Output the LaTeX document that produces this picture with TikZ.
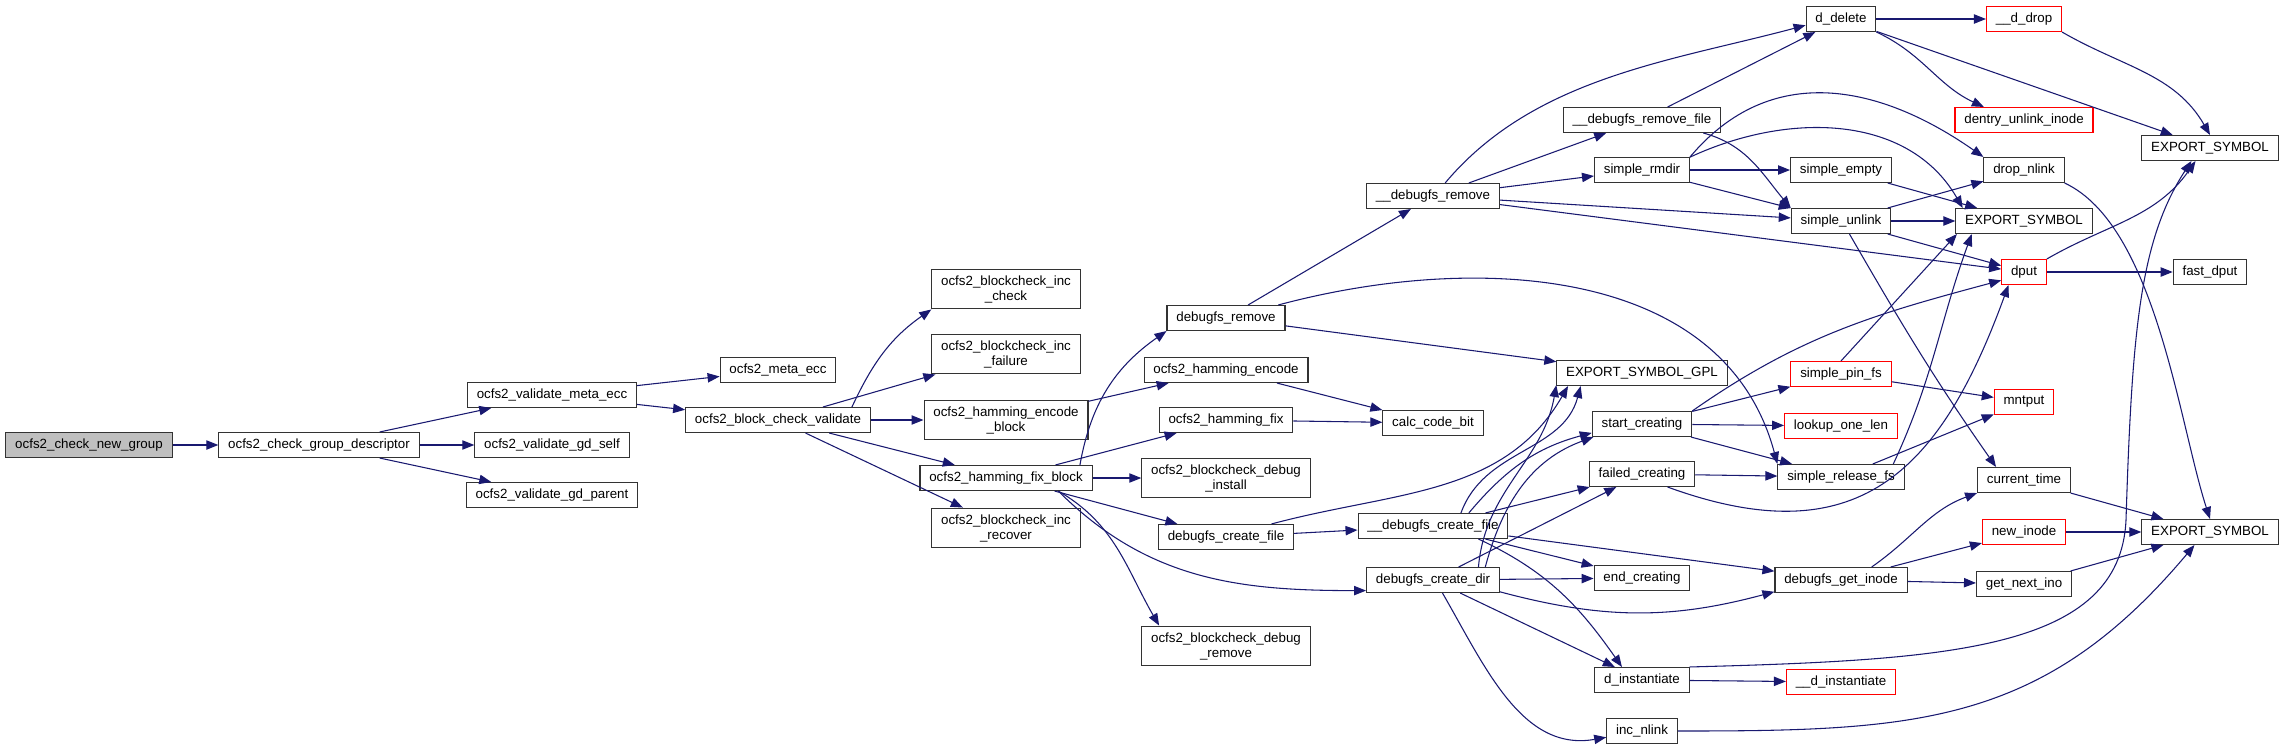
\documentclass[tikz,border=0pt]{standalone}
\usepackage{fontspec}
\setmainfont{Liberation Sans}
\usepackage{tikz}
\usetikzlibrary{arrows.meta}
\definecolor{edgeblue}{RGB}{25,25,112}

\begin{document}
\begin{tikzpicture}[
  x=0.75pt, y=0.75pt,
  fn/.style={draw=black!80, fill=white, line width=0.8pt, font=\fontsize{10}{11.25}\selectfont, inner xsep=7pt, inner ysep=4.7pt, minimum height=18.75pt, align=center},
  fnred/.style={fn, draw=red},
  root/.style={fn, fill=black!25},
  arr/.style={-{Triangle[length=9pt,width=7pt]}, line width=0.8pt, color=edgeblue},
]
\useasboundingbox (0,0) rectangle (2285,-747);

% ─── Caller chain (left) ───
\node[root] (cng) at (89,-445) {ocfs2\_check\_new\_group};
\node[fn] (cgd) at (319,-445) {ocfs2\_check\_group\_descriptor};
\node[fn] (vme) at (552,-395) {ocfs2\_validate\_meta\_ecc};
\node[fn] (vgs) at (552,-445) {ocfs2\_validate\_gd\_self};
\node[fn] (vgp) at (552,-495) {ocfs2\_validate\_gd\_parent};
\node[fn] (mec) at (778,-370) {ocfs2\_meta\_ecc};
\node[fn] (bcv) at (778,-420) {ocfs2\_block\_check\_validate};

% ─── Block check column ───
\node[fn] (ich) at (1006,-289) {ocfs2\_blockcheck\_inc\\\_check};
\node[fn] (icf) at (1006,-354) {ocfs2\_blockcheck\_inc\\\_failure};
\node[fn] (heb) at (1006,-420) {ocfs2\_hamming\_encode\\\_block};
\node[fn] (hfb) at (1006,-478) {ocfs2\_hamming\_fix\_block};
\node[fn] (icr) at (1006,-528) {ocfs2\_blockcheck\_inc\\\_recover};

% ─── Hamming / debugfs column ───
\node[fn] (dfr) at (1226,-318) {debugfs\_remove};
\node[fn] (hen) at (1226,-370) {ocfs2\_hamming\_encode};
\node[fn] (hfx) at (1226,-420) {ocfs2\_hamming\_fix};
\node[fn] (dbi) at (1226,-478) {ocfs2\_blockcheck\_debug\\\_install};
\node[fn] (dcf) at (1226,-537) {debugfs\_create\_file};
\node[fn] (dbr) at (1226,-646) {ocfs2\_blockcheck\_debug\\\_remove};

\node[fn] (udr) at (1433,-196) {\_\_debugfs\_remove};
\node[fn] (ccb) at (1433,-423) {calc\_code\_bit};
\node[fn] (udcf) at (1433,-526) {\_\_debugfs\_create\_file};
\node[fn] (dcd) at (1433,-580) {debugfs\_create\_dir};

\node[fn] (udrf) at (1642,-120) {\_\_debugfs\_remove\_file};
\node[fn] (srm) at (1642,-170) {simple\_rmdir};
\node[fn] (esg) at (1642,-373) {EXPORT\_SYMBOL\_GPL};
\node[fn] (stc) at (1642,-424) {start\_creating};
\node[fn] (fcr) at (1642,-474) {failed\_creating};
\node[fn] (ecr) at (1642,-578) {end\_creating};
\node[fn] (din) at (1642,-680) {d\_instantiate};
\node[fn] (inl) at (1642,-731) {inc\_nlink};

% ─── libfs / dcache column ───
\node[fn] (ddl) at (1841,-19) {d\_delete};
\node[fn] (sem) at (1841,-170) {simple\_empty};
\node[fn] (sul) at (1841,-221) {simple\_unlink};
\node[fnred] (spf) at (1841,-374) {simple\_pin\_fs};
\node[fnred] (lol) at (1841,-426) {lookup\_one\_len};
\node[fn] (srf) at (1841,-477) {simple\_release\_fs};
\node[fn] (dgi) at (1841,-580) {debugfs\_get\_inode};
\node[fnred] (udin) at (1841,-682) {\_\_d\_instantiate};

\node[fnred] (udd) at (2024,-19) {\_\_d\_drop};
\node[fnred] (dui) at (2024,-120) {dentry\_unlink\_inode};
\node[fn] (dnl) at (2024,-170) {drop\_nlink};
\node[fn] (esm) at (2024,-221) {EXPORT\_SYMBOL};
\node[fnred] (dpt) at (2024,-272) {dput};
\node[fnred] (mnt) at (2024,-402) {mntput};
\node[fn] (ctm) at (2024,-480) {current\_time};
\node[fnred] (nin) at (2024,-532) {new\_inode};
\node[fn] (gni) at (2024,-584) {get\_next\_ino};

\node[fn] (est) at (2210,-148) {EXPORT\_SYMBOL};
\node[fn] (fdp) at (2210,-272) {fast\_dput};
\node[fn] (esb) at (2210,-532) {EXPORT\_SYMBOL};

% ─── Calls: left part ───
\draw[arr] (cng) -- (cgd);
\draw[arr] (cgd) -- (vme);
\draw[arr] (cgd) -- (vgs);
\draw[arr] (cgd) -- (vgp);
\draw[arr] (vme) -- (mec);
\draw[arr] (vme) -- (bcv);
\draw[arr] (bcv.10) to[out=65,in=215] (ich.south west);
\draw[arr] (bcv) -- (icf);
\draw[arr] (bcv) -- (heb);
\draw[arr] (bcv) -- (hfb);
\draw[arr] (bcv) -- (icr);
\draw[arr] (heb) -- (hen);
\draw[arr] (hfb) -- (hfx);
\draw[arr] (hfb.10) to[out=80,in=215] (dfr.south west);
\draw[arr] (hfb) -- (dbi);
\draw[arr] (hfb) -- (dcf);
\draw[arr] (hfb.-14) to[out=-45,in=180] (dcd.189);
\draw[arr] (hfb.-14) to[out=-30,in=120] (dbr.163);
\draw[arr] (hen) -- (ccb);
\draw[arr] (hfx) -- (ccb);

% ─── debugfs_remove side ───
\draw[arr] (dfr) -- (udr);
\draw[arr] (dfr) -- (esg);
\draw[arr] (dfr.14) to[out=15,in=105] (srf.north west);
\draw[arr] (udr.47) to[out=50,in=195,looseness=0.9] (ddl.190);
\draw[arr] (udr) -- (udrf);
\draw[arr] (udr) -- (srm);
\draw[arr] (udr) -- (sul);
\draw[arr] (udr) -- (dpt);
\draw[arr] (udrf) -- (ddl);
\draw[arr] (udrf.-12) to[out=-15,in=130] (sul.north west);
\draw[arr] (srm) -- (sem);
\draw[arr] (srm) -- (sul);
\draw[arr] (srm.north east) to[out=50,in=145,looseness=1.1] (dnl.north west);
\draw[arr] (srm.15) to[out=25,in=120] (esm.168);
\draw[arr] (sem) -- (esm);
\draw[arr] (sul) -- (dnl);
\draw[arr] (sul) -- (esm);
\draw[arr] (sul) -- (dpt);
\draw[arr] (sul.-57) to[out=-60,in=125] (ctm.155);
\draw[arr] (ddl) -- (udd);
\draw[arr] (ddl.south east) to[out=-25,in=155] (dui.162);
\draw[arr] (ddl) -- (est);
\draw[arr] (udd.south east) to[out=-30,in=120] (est.north);
\draw[arr] (dnl.south east) to[out=-25,in=108,looseness=0.7] (esb.north);
\draw[arr] (dpt.north east) to[out=30,in=235] (est.222);
\draw[arr] (dpt) -- (fdp);

% ─── debugfs_create side ───
\draw[arr] (dcf) -- (udcf);
\draw[arr] (dcf.16) to[out=15,in=240] (esg.190);
\draw[arr] (udcf.20) to[out=50,in=195] (stc.190);
\draw[arr] (udcf.25) to[out=70,in=255] (esg.192);
\draw[arr] (udcf) -- (fcr);
\draw[arr] (udcf) -- (ecr);
\draw[arr] (udcf) -- (dgi);
\draw[arr] (udcf.-16) to[out=-25,in=125] (din.147);
\draw[arr] (dcd.14) to[out=75,in=200] (stc.195);
\draw[arr] (dcd.16) to[out=85,in=260] (esg.188);
\draw[arr] (dcd) -- (fcr);
\draw[arr] (dcd) -- (ecr);
\draw[arr] (dcd.-10) to[out=-15,in=195] (dgi.190);
\draw[arr] (dcd) -- (din);
\draw[arr] (dcd.-54) to[out=-60,in=190] (inl.190);
\draw[arr] (stc) -- (spf);
\draw[arr] (stc) -- (lol);
\draw[arr] (stc) -- (srf);
\draw[arr] (stc.north east) to[out=35,in=195] (dpt.200);
\draw[arr] (fcr) -- (srf);
\draw[arr] (fcr.-27) to[out=-20,in=250,looseness=1.3] (dpt.220);
\draw[arr] (spf.north) -- (esm.191);
\draw[arr] (spf) -- (mnt);
\draw[arr] (srf.14) to[out=65,in=250] (esm.194);
\draw[arr] (srf) -- (mnt);
\draw[arr] (din) -- (udin);
\draw[arr] (din.north east) .. controls (1950,-660) and (2120,-650) .. (2126,-520)
  .. controls (2132,-330) and (2140,-240) .. (est.215);
\draw[arr] (inl.east) to[out=0,in=230,looseness=1.1] (esb.220);
\draw[arr] (dgi.23) to[out=35,in=200] (ctm.south west);
\draw[arr] (dgi) -- (nin);
\draw[arr] (dgi) -- (gni);
\draw[arr] (ctm) -- (esb);
\draw[arr] (nin) -- (esb);
\draw[arr] (gni) -- (esb);

\end{tikzpicture}
\end{document}
